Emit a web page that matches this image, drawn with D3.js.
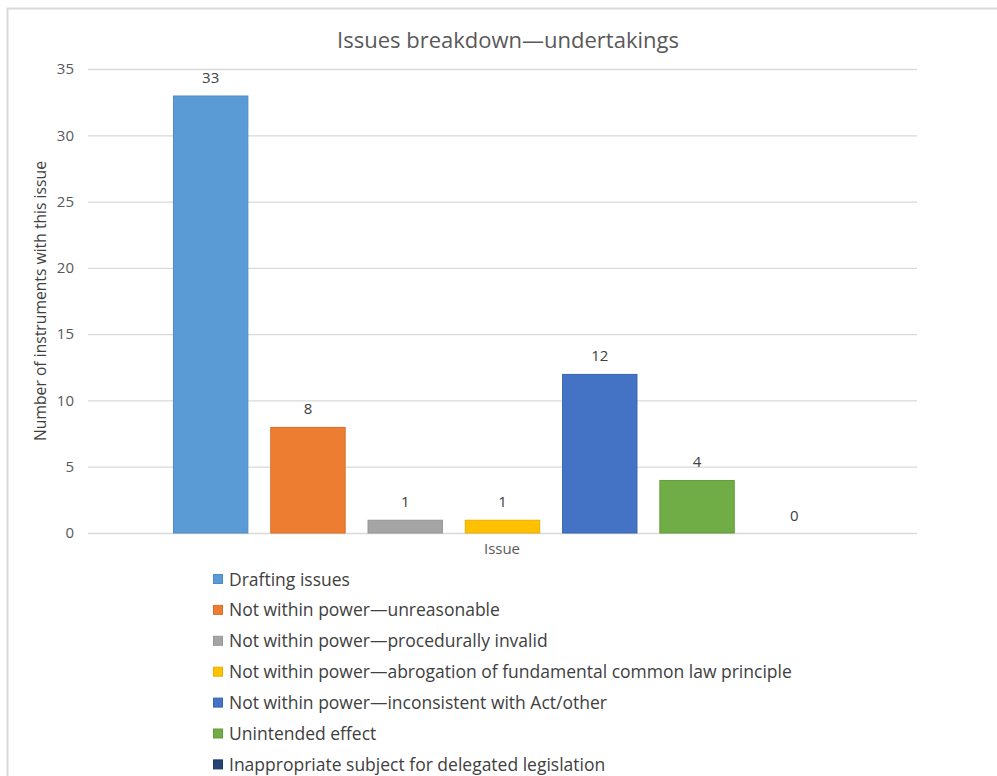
<!DOCTYPE html>
<html>
<head>
<meta charset="utf-8">
<script src="https://cdn.jsdelivr.net/npm/d3@7/dist/d3.min.js"></script>
<style>
  html, body { margin: 0; padding: 0; background: #fff; }
  svg { display: block; }
  text { font-family: "Open Sans", sans-serif; }
</style>
</head>
<body>
<svg id="chart" width="997" height="776"></svg>
<script>
// Chart data
const categories = ["Issue"];
const seriesNames = [
  "Drafting issues",
  "Not within power\u2014unreasonable",
  "Not within power\u2014procedurally invalid",
  "Not within power\u2014abrogation of fundamental common law principle",
  "Not within power\u2014inconsistent with Act/other",
  "Unintended effect",
  "Inappropriate subject for delegated legislation"
];
const seriesValues = [33, 8, 1, 1, 12, 4, 0];
const yTicks = [0, 5, 10, 15, 20, 25, 30, 35];
const fills = ["#5B9BD5", "#ED7D31", "#A5A5A5", "#FFC000", "#4472C4", "#70AD47", "#264478"];
const strokes = ["#4F8CC3", "#D96E27", "#959595", "#E8AE00", "#3A64B1", "#629B3C", "#1E3862"];

const svg = d3.select("#chart");

// Outer frame (top and left edges visible)
svg.append("line").attr("x1", 7).attr("x2", 997).attr("y1", 8.5).attr("y2", 8.5)
  .attr("stroke", "#d9d9d9").attr("stroke-width", 2);
svg.append("line").attr("x1", 7.5).attr("x2", 7.5).attr("y1", 8).attr("y2", 776)
  .attr("stroke", "#d9d9d9").attr("stroke-width", 2);

const plot = { left: 88, right: 917, top: 69, bottom: 533 };

const y = d3.scaleLinear().domain([0, 35]).range([plot.bottom, plot.top]);

const x0 = d3.scaleBand().domain(categories).range([plot.left, plot.right])
  .paddingInner(0).paddingOuter(0.1087);
const x1 = d3.scaleBand().domain(seriesNames).range([0, x0.bandwidth()])
  .paddingInner(0.225).paddingOuter(0.1125);

// Gridlines and value axis
const yAxis = d3.axisLeft(y).tickValues(yTicks)
  .tickSize(-(plot.right - plot.left)).tickPadding(14).tickFormat(d3.format("d"));
const gAxis = svg.append("g").attr("transform", `translate(${plot.left},0)`).call(yAxis);
gAxis.select(".domain").remove();
gAxis.selectAll(".tick line").attr("stroke", "#d9d9d9").attr("stroke-width", 1.3);
gAxis.selectAll(".tick text").attr("fill", "#595959").attr("font-size", 15)
  .attr("font-family", "'Open Sans', sans-serif");

// Bars with value labels
const gBars = svg.append("g");
categories.forEach(cat => {
  seriesNames.forEach((s, i) => {
    const v = seriesValues[i];
    const bx = x0(cat) + x1(s);
    if (v > 0) {
      gBars.append("rect")
        .attr("x", bx + 0.5).attr("y", y(v) + 0.5)
        .attr("width", x1.bandwidth() - 1).attr("height", y(0) - y(v) - 0.5)
        .attr("fill", fills[i]).attr("stroke", strokes[i]).attr("stroke-width", 1);
    }
    gBars.append("text")
      .attr("x", bx + x1.bandwidth() / 2).attr("y", y(v) - 12.5)
      .attr("text-anchor", "middle").attr("fill", "#404040").attr("font-size", 15)
      .text(v);
  });
});

// Title
svg.append("text").attr("x", 508).attr("y", 48).attr("text-anchor", "middle")
  .attr("fill", "#595959").attr("font-size", 22)
  .text("Issues breakdown\u2014undertakings");

// Axis titles
svg.append("text").attr("x", 502).attr("y", 554).attr("text-anchor", "middle")
  .attr("fill", "#595959").attr("font-size", 15).text(categories[0]);
svg.append("text")
  .attr("transform", `translate(46,${(plot.top + plot.bottom) / 2}) rotate(-90)`)
  .attr("text-anchor", "middle").attr("fill", "#404040").attr("font-size", 15.7)
  .text("Number of instruments with this issue");

// Legend
const legend = svg.append("g");
seriesNames.forEach((s, i) => {
  const cy = 579 + i * 30.9;
  legend.append("rect").attr("x", 213.5).attr("y", cy - 4.5).attr("width", 9).attr("height", 9)
    .attr("fill", fills[i]).attr("stroke", strokes[i]).attr("stroke-width", 1);
  legend.append("text").attr("x", 229).attr("y", cy + 6.5)
    .attr("fill", "#404040").attr("font-size", 17.5).text(s);
});
</script>
</body>
</html>
